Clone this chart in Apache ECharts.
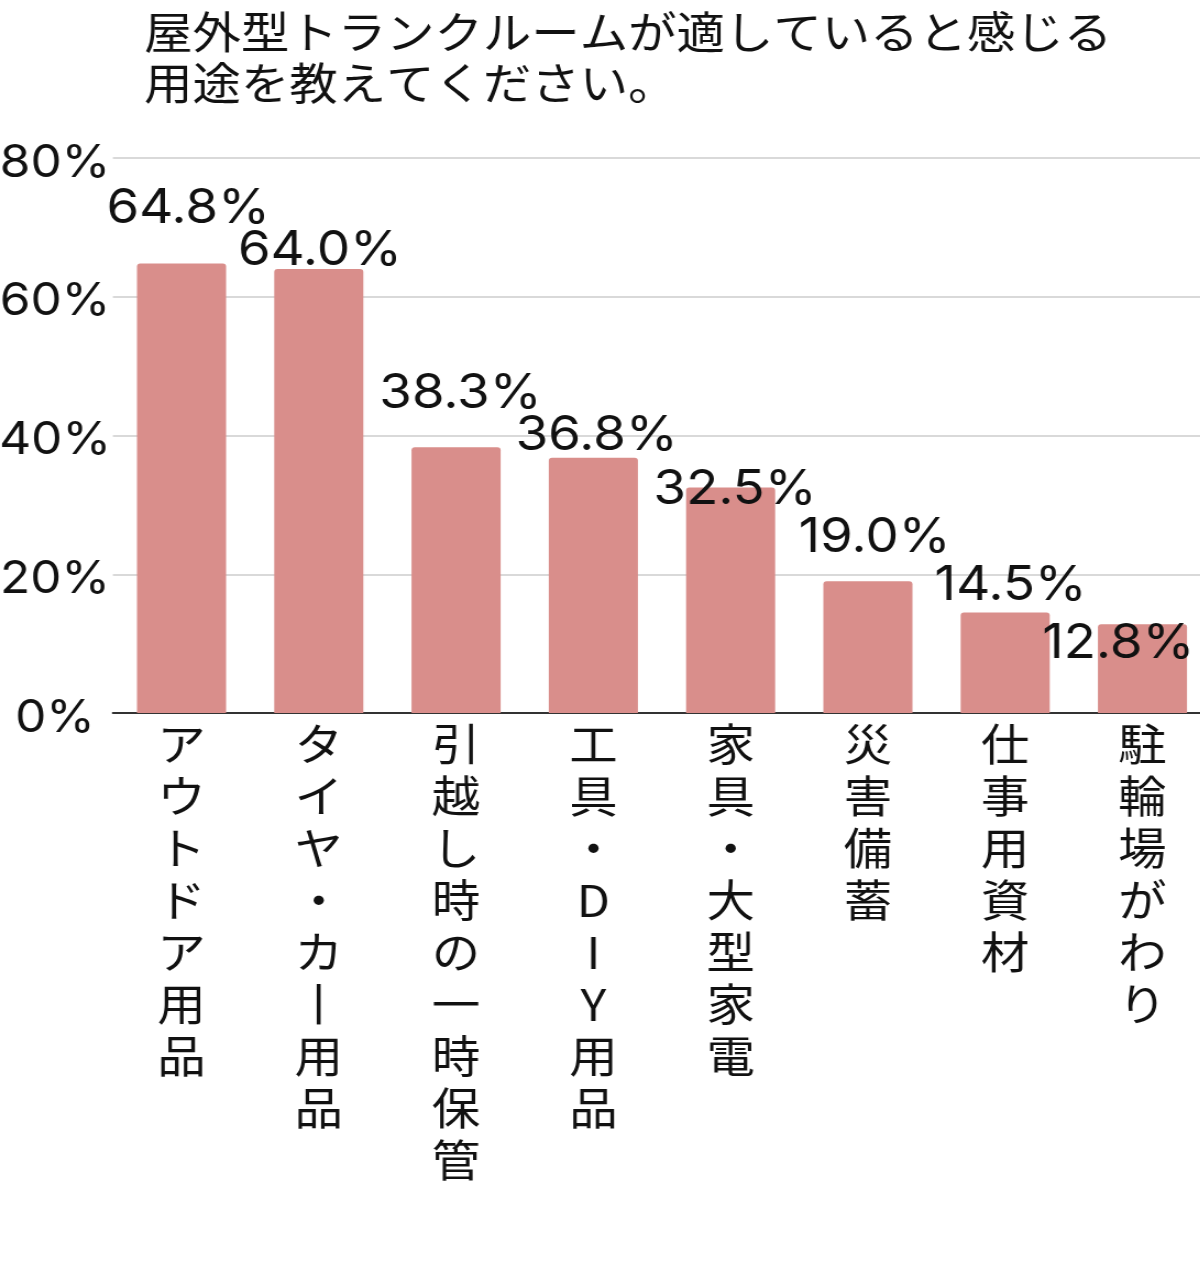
<!DOCTYPE html>
<html lang="ja">
<head>
<meta charset="UTF-8">
<title>屋外型トランクルームの用途</title>
<script src="https://cdn.jsdelivr.net/npm/echarts@6/dist/echarts.min.js"></script>
<style>
    html, body { margin: 0; padding: 0; overflow: hidden; background: #fff; }
    /* the source picture is stretched sideways, so draw narrow and widen */
    #main { width: 1091px; height: 1266px; transform: scaleX(1.1); transform-origin: 0 0; }
</style>
</head>
<body>
<div id="main"></div>
<script>
    // データ
    var categories = ['アウトドア用品', 'タイヤ・カー用品', '引越し時の一時保管', '工具・DIY用品',
        '家具・大型家電', '災害備蓄', '仕事用資材', '駐輪場がわり'];
    var values = [64.8, 64.0, 38.3, 36.8, 32.5, 19.0, 14.5, 12.8];
    var yTicks = [0, 20, 40, 60, 80];
    var titleText = '屋外型トランクルームが適していると感じる\n用途を教えてください。';

    var numFont = 'Inter, Roboto, sans-serif';
    var cjkFont = '"Noto Sans CJK JP", sans-serif';
    // ラベルの重なり回避 (元画像に合わせた微調整)
    var labelShift = [[6, -55], [1, -18], [4, -54], [3, -22], [4, 2], [6, -44], [5, -27], [-22, 19]];

    var chart = echarts.init(document.getElementById('main'));
    var option = {
        animation: false,
        title: {
            text: titleText,
            left: 126,
            top: 2,
            textStyle: { fontFamily: cjkFont, fontSize: 44, fontWeight: 'normal', color: '#111', lineHeight: 51 }
        },
        grid: { left: 102.6, right: -10, top: 158, bottom: 553, outerBoundsMode: 'none', containLabel: false },
        xAxis: {
            type: 'category',
            data: categories,
            axisLine: { lineStyle: { color: '#333', width: 2 } },
            axisTick: { show: false },
            axisLabel: {
                interval: 0,
                margin: 5,
                fontFamily: cjkFont,
                fontSize: 44,
                lineHeight: 52,
                color: '#111',
                formatter: function (v) {
                    // 縦書き: 長音記号は縦棒で表示
                    return v.split('').map(function (c) { return c === 'ー' ? '丨' : c; }).join('\n');
                }
            }
        },
        yAxis: {
            type: 'value',
            min: yTicks[0],
            max: yTicks[yTicks.length - 1],
            interval: 20,
            axisLine: { show: false },
            axisTick: { show: false },
            splitLine: { lineStyle: { color: '#d9d9d9', width: 2 } },
            axisLabel: {
                margin: 52.6,
                align: 'center',
                verticalAlign: 'top',
                lineHeight: 10,
                fontFamily: numFont,
                fontSize: 45,
                color: '#111',
                formatter: '{value}%'
            }
        },
        series: [{
            type: 'bar',
            barWidth: 81,
            data: values.map(function (v, i) {
                return {
                    value: v,
                    label: { offset: labelShift[i] }
                };
            }),
            itemStyle: { color: '#d98e8b', borderRadius: [3, 3, 0, 0] },
            label: {
                show: true,
                position: ['50%', 0],
                align: 'center',
                verticalAlign: 'middle',
                fontFamily: numFont,
                fontSize: 48,
                color: '#111',
                formatter: function (p) { return p.value.toFixed(1) + '%'; }
            }
        }]
    };
    chart.setOption(option);
</script>
</body>
</html>
